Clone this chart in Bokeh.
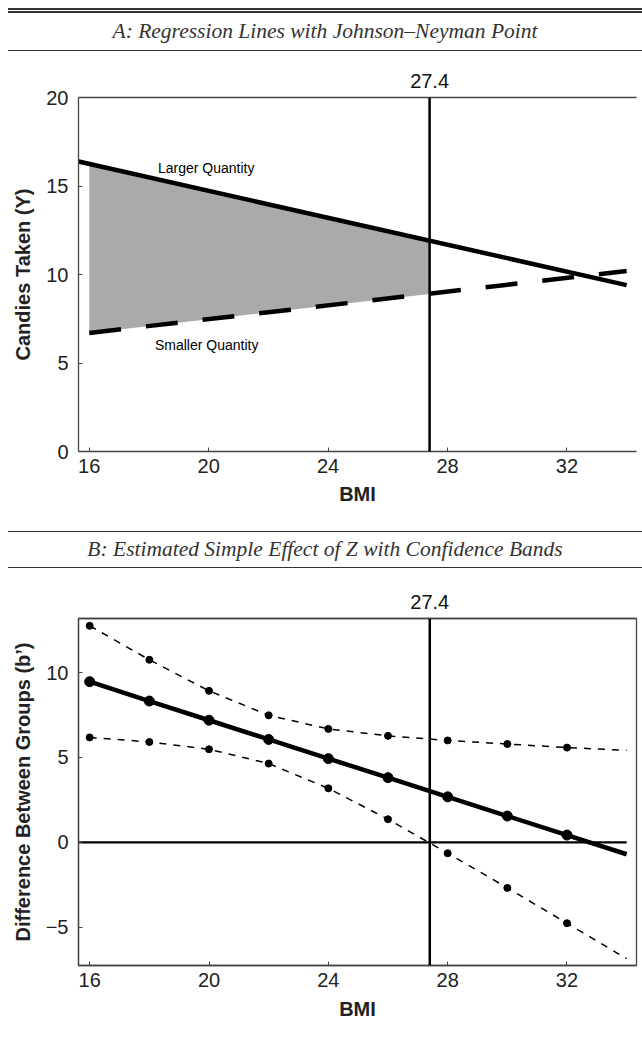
from bokeh.plotting import figure
from bokeh.models import Div, Span, LinearAxis, FixedTicker, Range1d, Label
from bokeh.layouts import column
from bokeh.embed import file_html
from bokeh.resources import INLINE

# ---------------- data ----------------
title_a = "A: Regression Lines with Johnson\u2013Neyman Point"
title_b = "B: Estimated Simple Effect of Z with Confidence Bands"

jn_point = 27.4

# Panel A: regression lines
larger_x = [15.6, 34.0]
larger_y = [16.4, 9.4]
smaller_x = [16.0, 34.0]
smaller_y = [6.7, 10.2]
shade_x = [16.0, 27.4]
shade_top = [16.25, 11.9]
shade_bottom = [6.7, 8.9]

# Panel B: simple effect with confidence bands
bmi_points = [16, 18, 20, 22, 24, 26, 28, 30, 32]
effect = [9.46, 8.32, 7.19, 6.06, 4.93, 3.81, 2.68, 1.55, 0.43]
upper = [12.75, 10.75, 8.92, 7.48, 6.68, 6.27, 6.00, 5.79, 5.58]
lower = [6.18, 5.91, 5.48, 4.64, 3.18, 1.36, -0.64, -2.68, -4.76]
bmi_end = 34.0
effect_end = -0.70
upper_end = 5.42
lower_end = -6.85

x_ticks = [16, 20, 24, 28, 32]
y_ticks_a = [0, 5, 10, 15, 20]
y_ticks_b = [-5, 0, 5, 10]

FONT = "Liberation Sans"
TICK_SIZE = "20px"
LABEL_SIZE = "20px"
AX_COLOR = "#444444"
TXT_COLOR = "#222222"


def style_axis(ax, standoff):
    ax.axis_line_color = AX_COLOR
    ax.axis_line_width = 1.3
    ax.major_tick_line_color = AX_COLOR
    ax.major_tick_in = 4
    ax.major_tick_out = 0
    ax.minor_tick_line_color = None
    ax.major_label_text_font = FONT
    ax.major_label_text_font_size = TICK_SIZE
    ax.major_label_text_color = TXT_COLOR
    ax.major_label_standoff = standoff
    ax.axis_label_text_font = FONT
    ax.axis_label_text_font_size = LABEL_SIZE
    ax.axis_label_text_font_style = "bold"
    ax.axis_label_text_color = TXT_COLOR


def base_fig(height, xr, yr, top, bottom, right):
    p = figure(width=634, height=height, x_range=xr, y_range=yr,
               toolbar_location=None, output_backend="svg",
               min_border_left=64, min_border_right=right,
               min_border_top=top, min_border_bottom=bottom, margin=0)
    p.xgrid.visible = False
    p.ygrid.visible = False
    p.background_fill_color = "white"
    p.border_fill_color = "white"
    return p


def top_axis(p):
    ax = LinearAxis(ticker=FixedTicker(ticks=[jn_point]))
    style_axis(ax, 10)
    ax.major_tick_in = 0
    ax.major_tick_out = 0
    ax.major_label_text_color = "#111111"
    p.add_layout(ax, "above")


def header(text, height, top_border):
    html = (
        f'<div style="width:634px;height:{height}px;box-sizing:border-box;'
        f'margin:0;padding:0;border-top:{top_border};border-bottom:1.5px solid #333;'
        'display:flex;align-items:center;justify-content:center;'
        "font-family:'Liberation Serif',serif;font-style:italic;"
        f'font-size:21.5px;line-height:1;color:#333;">{text}</div>'
    )
    return Div(text=html, width=634, height=height, margin=0)


# ---------------- Panel A ----------------
pa = base_fig(480, Range1d(15.64, 34.33), Range1d(0, 20), 46, 80, 0)
pa.outline_line_color = None
style_axis(pa.xaxis[0], 7)
style_axis(pa.yaxis[0], 10)
pa.xaxis[0].ticker = FixedTicker(ticks=x_ticks)
pa.yaxis[0].ticker = FixedTicker(ticks=y_ticks_a)
pa.xaxis[0].axis_label = "BMI"
pa.yaxis[0].axis_label = "Candies Taken (Y)"
pa.xaxis[0].axis_label_standoff = 7
pa.yaxis[0].axis_label_standoff = 9
top_axis(pa)

pa.varea(x=shade_x, y1=shade_bottom, y2=shade_top, fill_color="#aaaaaa")
pa.line(larger_x, larger_y, line_color="black", line_width=4.5)
pa.line(smaller_x, smaller_y, line_color="black", line_width=4.5,
        line_dash="32 25")
pa.add_layout(Span(location=jn_point, dimension="height",
                   line_color="black", line_width=2.5))
pa.add_layout(Label(x=18.3, y=16.0, text="Larger Quantity",
                    text_font=FONT, text_font_size="14px",
                    text_baseline="middle", text_color="black"))
pa.add_layout(Label(x=18.2, y=6.0, text="Smaller Quantity",
                    text_font=FONT, text_font_size="14px",
                    text_baseline="middle", text_color="black"))

# ---------------- Panel B ----------------
xb0 = 15.625
pb = base_fig(454, Range1d(xb0, 34.33), Range1d(-7.25, 13.18), 50, 54, 6)
pb.outline_line_color = AX_COLOR
pb.outline_line_width = 1.3
style_axis(pb.xaxis[0], 7)
style_axis(pb.yaxis[0], 10)
pb.xaxis[0].ticker = FixedTicker(ticks=x_ticks)
pb.yaxis[0].ticker = FixedTicker(ticks=y_ticks_b)
pb.yaxis[0].major_label_overrides = {-5: "\u22125"}
pb.xaxis[0].axis_label = "BMI"
pb.yaxis[0].axis_label = "Difference Between Groups (b\u2019)"
pb.xaxis[0].axis_label_standoff = 8
pb.yaxis[0].axis_label_standoff = 9
top_axis(pb)

pb.line([xb0, bmi_end], [0, 0], line_color="black", line_width=2.3)
pb.add_layout(Span(location=jn_point, dimension="height",
                   line_color="black", line_width=2.5))

line_x = bmi_points + [bmi_end]
pb.line(line_x, upper + [upper_end], line_color="black", line_width=1.5,
        line_dash="7 7")
pb.line(line_x, lower + [lower_end], line_color="black", line_width=1.5,
        line_dash="7 7")
pb.scatter(bmi_points, upper, size=7, color="black")
pb.scatter(bmi_points, lower, size=7, color="black")
pb.line(line_x, effect + [effect_end], line_color="black", line_width=4.5)
pb.scatter(bmi_points, effect, size=10, color="black")

# ---------------- layout ----------------
head_a = header(title_a, 43, "5px double #333")
head_b = header(title_b, 37, "1.5px solid #333")

layout = column(head_a, pa, head_b, pb, spacing=0, margin=(8, 0, 0, 8))

with open("out.html", "w") as f:
    f.write(file_html(layout, INLINE))
